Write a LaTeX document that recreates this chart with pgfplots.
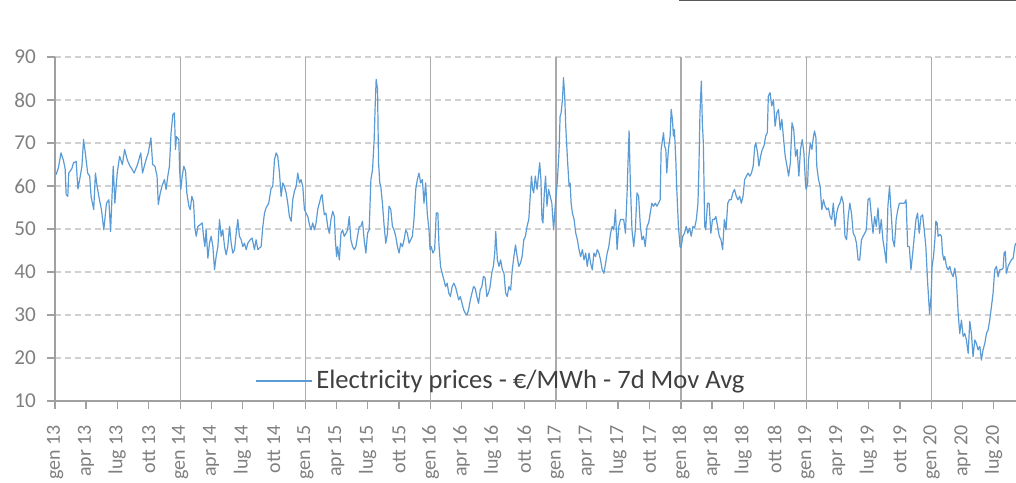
\documentclass[border=0pt]{standalone}
\usepackage{fontspec}
\setmainfont{Carlito}
\usepackage{pgfplots}
\pgfplotsset{compat=1.18}
\usepackage{pgfplotstable}
\definecolor{linecol}{HTML}{5B9BD5}
\definecolor{gridh}{HTML}{D0D0D0}
\definecolor{gridv}{HTML}{ABABAB}
\definecolor{axcol}{HTML}{A0A0A0}
\definecolor{ticklab}{HTML}{7F7F7F}
\definecolor{legtxt}{HTML}{404040}

\pgfplotstableread{
x y
2013.008 62.6
2013.027 64.2
2013.048 67.7
2013.067 66.0
2013.081 64.0
2013.089 58.0
2013.102 57.6
2013.110 63.0
2013.134 64.0
2013.148 65.4
2013.169 65.7
2013.183 59.3
2013.202 62.3
2013.215 64.6
2013.228 70.8
2013.242 67.7
2013.261 63.0
2013.277 62.3
2013.288 57.6
2013.309 54.5
2013.323 63.0
2013.336 60.0
2013.355 56.8
2013.371 54.5
2013.390 49.8
2013.411 56.0
2013.430 56.8
2013.444 49.4
2013.465 64.6
2013.478 56.0
2013.497 63.0
2013.516 66.9
2013.538 65.0
2013.556 68.5
2013.578 66.0
2013.599 64.6
2013.618 63.8
2013.632 63.0
2013.659 65.0
2013.685 67.7
2013.699 63.0
2013.726 66.0
2013.745 67.7
2013.766 71.2
2013.780 65.0
2013.798 64.6
2013.815 62.3
2013.825 55.7
2013.841 58.4
2013.855 60.0
2013.874 61.5
2013.887 59.2
2013.901 62.3
2013.914 64.6
2013.927 72.4
2013.941 76.6
2013.954 77.0
2013.962 68.5
2013.970 71.5
2013.989 70.8
2013.995 63.8
2014.005 59.2
2014.016 62.3
2014.029 64.6
2014.043 63.4
2014.053 58.4
2014.069 55.3
2014.080 54.5
2014.093 57.6
2014.106 56.4
2014.117 50.2
2014.128 48.3
2014.141 50.6
2014.160 51.0
2014.176 51.4
2014.186 48.3
2014.197 45.9
2014.207 49.8
2014.221 43.2
2014.234 46.7
2014.247 48.3
2014.261 45.9
2014.274 40.5
2014.287 43.6
2014.301 45.9
2014.314 52.2
2014.327 48.3
2014.340 49.8
2014.354 45.9
2014.367 44.0
2014.380 45.9
2014.394 50.6
2014.407 46.7
2014.420 44.4
2014.434 45.2
2014.447 49.0
2014.460 52.2
2014.473 48.3
2014.487 47.5
2014.500 45.9
2014.513 46.7
2014.527 45.2
2014.540 46.7
2014.559 47.5
2014.574 47.9
2014.593 45.2
2014.606 47.5
2014.620 45.2
2014.633 45.6
2014.646 45.9
2014.660 50.6
2014.673 53.7
2014.686 54.9
2014.707 56.0
2014.726 59.5
2014.739 59.9
2014.753 66.1
2014.766 67.7
2014.779 66.9
2014.793 63.0
2014.806 57.6
2014.819 60.7
2014.832 59.9
2014.846 58.4
2014.859 56.0
2014.872 52.9
2014.886 51.8
2014.899 56.8
2014.912 58.8
2014.926 59.9
2014.939 63.0
2014.952 60.7
2014.965 61.5
2014.979 59.9
2014.992 54.5
2015.005 53.7
2015.019 52.9
2015.032 51.0
2015.045 49.8
2015.058 51.4
2015.072 49.8
2015.085 51.4
2015.098 54.5
2015.111 56.0
2015.125 57.6
2015.133 58.0
2015.143 55.3
2015.151 53.3
2015.164 53.7
2015.178 50.6
2015.191 49.0
2015.204 52.2
2015.218 54.1
2015.231 52.9
2015.239 47.5
2015.249 43.6
2015.257 45.9
2015.271 42.8
2015.284 49.0
2015.297 49.8
2015.310 48.3
2015.324 49.0
2015.337 49.8
2015.350 52.9
2015.363 47.5
2015.377 45.9
2015.390 45.2
2015.403 45.9
2015.416 48.3
2015.430 50.6
2015.443 50.6
2015.456 51.8
2015.469 47.5
2015.483 44.4
2015.496 49.0
2015.509 49.8
2015.523 61.5
2015.536 63.8
2015.549 70.8
2015.557 78.6
2015.565 84.8
2015.576 82.5
2015.584 65.4
2015.594 60.7
2015.602 59.9
2015.615 56.0
2015.629 50.6
2015.642 46.7
2015.655 49.0
2015.668 55.3
2015.682 54.5
2015.695 50.6
2015.708 49.8
2015.721 48.3
2015.735 45.9
2015.748 44.4
2015.761 46.7
2015.775 45.9
2015.788 47.5
2015.801 49.8
2015.814 49.0
2015.828 46.7
2015.841 47.5
2015.854 48.3
2015.867 52.2
2015.881 59.2
2015.894 61.5
2015.907 63.0
2015.920 60.7
2015.934 61.5
2015.947 56.0
2015.960 60.7
2015.973 53.7
2015.987 49.8
2015.995 45.2
2016.005 45.9
2016.018 44.4
2016.032 45.2
2016.045 53.7
2016.058 53.7
2016.066 46.7
2016.079 41.3
2016.092 39.7
2016.106 38.2
2016.119 36.6
2016.132 37.4
2016.145 35.1
2016.158 34.3
2016.172 36.6
2016.185 37.4
2016.198 36.6
2016.211 35.1
2016.224 33.5
2016.237 34.3
2016.251 32.7
2016.264 31.2
2016.277 30.4
2016.290 30.0
2016.303 31.2
2016.317 33.5
2016.330 35.1
2016.343 36.6
2016.356 36.2
2016.369 34.3
2016.383 32.7
2016.396 35.8
2016.409 36.6
2016.422 39.0
2016.435 38.6
2016.449 34.3
2016.462 35.1
2016.475 36.6
2016.488 39.7
2016.501 41.3
2016.512 44.4
2016.520 49.4
2016.533 42.8
2016.546 41.3
2016.559 42.8
2016.573 40.5
2016.586 39.7
2016.599 35.1
2016.612 34.3
2016.625 36.6
2016.639 35.8
2016.652 40.5
2016.665 43.6
2016.678 46.3
2016.691 43.6
2016.704 41.3
2016.718 42.1
2016.731 43.6
2016.744 47.5
2016.757 48.3
2016.770 50.6
2016.784 52.2
2016.797 58.4
2016.805 62.3
2016.815 59.2
2016.823 58.4
2016.836 62.3
2016.850 59.2
2016.863 63.0
2016.871 65.4
2016.881 61.5
2016.889 52.2
2016.897 51.4
2016.908 58.4
2016.918 62.3
2016.929 55.3
2016.942 59.2
2016.955 57.6
2016.968 56.0
2016.982 49.8
2016.995 55.3
2017.013 61.5
2017.026 68.5
2017.034 76.2
2017.042 77.0
2017.053 80.1
2017.061 85.2
2017.071 80.9
2017.079 73.9
2017.093 66.1
2017.106 59.9
2017.114 60.7
2017.122 56.0
2017.132 53.7
2017.146 52.2
2017.159 49.0
2017.172 47.5
2017.185 45.2
2017.198 43.6
2017.212 45.2
2017.225 42.8
2017.238 44.4
2017.251 41.3
2017.265 44.4
2017.278 42.0
2017.291 40.5
2017.304 44.4
2017.317 43.6
2017.331 45.2
2017.344 44.4
2017.357 42.8
2017.370 40.5
2017.384 39.7
2017.397 42.0
2017.410 44.4
2017.423 45.9
2017.437 49.0
2017.450 50.6
2017.463 49.8
2017.476 54.5
2017.489 45.2
2017.503 50.6
2017.516 52.2
2017.529 52.2
2017.542 52.2
2017.556 49.0
2017.569 58.4
2017.577 66.1
2017.585 72.8
2017.595 60.7
2017.608 49.8
2017.622 45.9
2017.635 49.8
2017.648 58.4
2017.661 57.6
2017.675 50.6
2017.688 47.5
2017.701 48.3
2017.714 45.9
2017.728 50.6
2017.741 51.4
2017.754 53.7
2017.767 56.0
2017.780 55.3
2017.794 56.0
2017.807 55.3
2017.820 56.0
2017.833 56.8
2017.841 68.5
2017.852 70.8
2017.860 72.4
2017.868 69.3
2017.878 68.5
2017.886 63.0
2017.899 68.5
2017.913 71.6
2017.921 77.8
2017.931 75.5
2017.939 71.6
2017.947 73.1
2017.958 66.1
2017.966 59.2
2017.979 50.6
2017.992 45.9
2018.000 45.6
2018.014 48.3
2018.027 49.0
2018.041 50.6
2018.054 49.0
2018.068 50.2
2018.081 48.3
2018.095 50.6
2018.108 50.2
2018.122 52.2
2018.135 56.0
2018.143 64.6
2018.151 77.0
2018.162 84.4
2018.170 74.7
2018.178 70.0
2018.189 50.6
2018.197 49.8
2018.211 56.0
2018.224 56.0
2018.238 49.0
2018.251 52.2
2018.265 52.2
2018.278 52.9
2018.292 50.6
2018.305 48.3
2018.319 47.5
2018.332 45.2
2018.346 52.2
2018.359 49.8
2018.373 56.0
2018.386 56.8
2018.400 56.8
2018.414 58.4
2018.427 59.2
2018.441 57.6
2018.454 56.8
2018.468 57.6
2018.481 56.0
2018.495 57.6
2018.508 61.5
2018.522 62.3
2018.535 63.0
2018.549 62.3
2018.562 63.0
2018.576 64.6
2018.589 69.3
2018.597 70.0
2018.611 67.7
2018.622 64.6
2018.635 66.9
2018.649 68.5
2018.662 69.3
2018.676 71.6
2018.689 72.4
2018.697 80.9
2018.711 81.7
2018.724 78.6
2018.738 80.1
2018.751 73.9
2018.765 77.0
2018.778 77.8
2018.792 73.1
2018.805 75.5
2018.819 70.8
2018.832 66.9
2018.846 64.6
2018.859 62.3
2018.873 65.4
2018.886 74.7
2018.900 73.1
2018.914 66.9
2018.927 68.5
2018.941 62.3
2018.954 68.5
2018.968 70.8
2018.981 67.7
2018.995 59.9
2019.000 59.2
2019.011 60.7
2019.018 66.1
2019.032 70.0
2019.045 68.5
2019.058 71.6
2019.066 72.8
2019.077 71.2
2019.084 64.6
2019.098 61.5
2019.111 59.9
2019.124 54.5
2019.137 56.8
2019.150 55.3
2019.164 54.5
2019.177 54.9
2019.190 52.9
2019.203 52.2
2019.216 56.0
2019.230 50.6
2019.243 53.7
2019.256 55.3
2019.269 56.0
2019.282 57.6
2019.296 56.0
2019.309 48.3
2019.322 47.5
2019.335 52.9
2019.348 56.0
2019.361 53.7
2019.375 49.0
2019.388 48.3
2019.401 46.7
2019.414 42.8
2019.427 42.8
2019.441 47.5
2019.454 48.3
2019.467 49.0
2019.480 49.8
2019.493 56.8
2019.507 57.2
2019.520 52.9
2019.533 49.0
2019.546 52.9
2019.559 50.6
2019.573 54.9
2019.586 49.0
2019.599 52.2
2019.612 47.5
2019.625 45.2
2019.639 42.1
2019.652 55.3
2019.665 59.9
2019.678 53.7
2019.691 47.5
2019.704 45.9
2019.718 52.2
2019.731 54.5
2019.744 56.0
2019.757 56.0
2019.770 56.0
2019.784 56.0
2019.797 56.8
2019.810 45.9
2019.823 45.9
2019.836 40.5
2019.850 44.4
2019.863 48.3
2019.876 52.2
2019.889 53.7
2019.902 49.0
2019.916 52.9
2019.929 53.3
2019.942 49.8
2019.955 45.9
2019.968 38.2
2019.985 30.2
2019.997 34.5
2020.005 41.3
2020.016 43.6
2020.027 47.5
2020.035 51.8
2020.045 51.4
2020.053 48.3
2020.066 48.7
2020.080 48.3
2020.088 44.4
2020.098 42.8
2020.106 43.6
2020.120 41.3
2020.133 40.5
2020.146 41.3
2020.160 39.7
2020.173 38.9
2020.186 40.9
2020.199 38.2
2020.213 30.4
2020.226 25.7
2020.239 28.8
2020.253 25.0
2020.266 25.7
2020.279 24.2
2020.293 21.1
2020.306 28.5
2020.319 25.7
2020.332 20.3
2020.346 24.2
2020.359 23.4
2020.372 21.9
2020.386 22.7
2020.399 19.5
2020.412 21.9
2020.426 23.4
2020.439 25.7
2020.452 26.5
2020.465 28.8
2020.479 32.0
2020.492 35.1
2020.505 40.5
2020.519 41.3
2020.532 38.9
2020.545 40.5
2020.559 40.5
2020.572 40.9
2020.580 44.4
2020.590 44.8
2020.598 39.7
2020.612 41.3
2020.625 42.1
2020.638 42.8
2020.652 43.2
2020.665 45.9
2020.673 46.7
}\prices

\begin{document}
\begin{tikzpicture}
\begin{axis}[
  scale only axis,
  width=480.5pt, height=172pt,
  xmin=2013, xmax=2020.675,
  ymin=10, ymax=90,
  ytick={10,20,...,90},
  xtick={2013,2013.247,2013.496,2013.748,
         2014,2014.247,2014.496,2014.748,
         2015,2015.247,2015.496,2015.748,
         2016,2016.247,2016.496,2016.748,
         2017,2017.247,2017.496,2017.748,
         2018,2018.247,2018.496,2018.748,
         2019,2019.247,2019.496,2019.748,
         2020,2020.247,2020.496},
  xticklabels={gen 13,apr 13,lug 13,ott 13,
               gen 14,apr 14,lug 14,ott 14,
               gen 15,apr 15,lug 15,ott 15,
               gen 16,apr 16,lug 16,ott 16,
               gen 17,apr 17,lug 17,ott 17,
               gen 18,apr 18,lug 18,ott 18,
               gen 19,apr 19,lug 19,ott 19,
               gen 20,apr 20,lug 20},
  extra x ticks={2014,2015,2016,2017,2018,2019,2020},
  extra x tick labels={},
  extra x tick style={grid=major, major tick length=0pt},
  x grid style={solid, draw=gridv, line width=0.7pt},
  ymajorgrids,
  y grid style={draw=gridh, line width=0.6pt, dash pattern=on 3pt off 2pt},
  axis x line*=bottom,
  axis y line*=left,
  axis line style={draw=axcol, line width=0.7pt, -},
  tick align=outside,
  major tick length=4pt,
  tick style={draw=axcol, line width=0.6pt},
  /pgf/number format/assume math mode=true,
  y tick label style={font=\fontsize{10.6}{12}\selectfont, text=ticklab},
  x tick label style={font=\fontsize{10}{12}\selectfont, text=ticklab, rotate=90, anchor=east},
  xticklabel shift=4.5pt,
  yticklabel shift=2pt,
  legend style={at={(0.465,0.058)}, anchor=center, draw=none, fill=none,
    font=\fontsize{13.3}{15}\selectfont, text=legtxt},
  legend image code/.code={\draw[#1] (0pt,0pt) -- (28pt,0pt);},
  clip=false,
]
\coordinate (sw) at (rel axis cs:0,0);
\coordinate (ne) at (rel axis cs:1,1);
\addplot[linecol, line width=0.6pt, line join=round] table[x=x,y=y]{\prices};
\addlegendentry{Electricity prices - €/MWh - 7d Mov Avg}
\end{axis}
\draw[color=black!65, line width=0.8pt] ([shift={(-168.5pt,28.2pt)}]ne) -- ([shift={(0pt,28.2pt)}]ne);
\pgfresetboundingbox
\useasboundingbox ([shift={(-27.5pt,-41pt)}]sw) rectangle ([shift={(0pt,28.5pt)}]ne);
\end{tikzpicture}
\end{document}
